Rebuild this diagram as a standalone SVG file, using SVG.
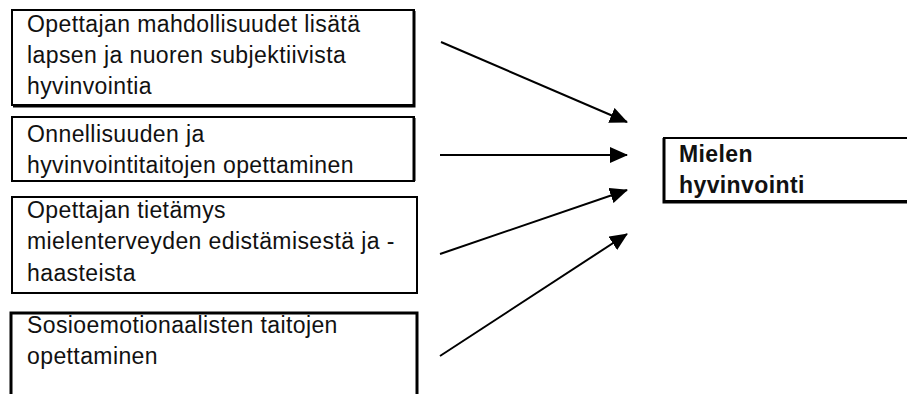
<svg xmlns="http://www.w3.org/2000/svg" width="907" height="394" viewBox="0 0 907 394">
<style>
.box{fill:#fff;stroke:#000;stroke-width:2}
.thick{stroke-width:3}
.t{font-family:"Liberation Sans",Arial,sans-serif;font-size:23px;letter-spacing:0.4px;fill:#111}
.b{font-weight:bold}
.c{stroke:#000;stroke-width:2;fill:none}
</style>
<defs>
<marker id="ah" markerWidth="9" markerHeight="8" refX="8.5" refY="4" orient="auto" markerUnits="strokeWidth">
<path d="M0,0 L9,4 L0,8 Z" fill="#000"/>
</marker>
</defs>
<g id="n1">
<rect class="box" x="12" y="10" width="402" height="95"/>
<path d="M414,11 V106 H13" class="c" style="stroke-width:3"/>
<text class="t"><tspan x="27" y="32">Opettajan mahdollisuudet lisätä</tspan><tspan x="27" y="63">lapsen ja nuoren subjektiivista</tspan><tspan x="27" y="94">hyvinvointia</tspan></text>
</g>
<g id="n2">
<rect class="box" x="12" y="117" width="402" height="64"/>
<path d="M414,118 V181" class="c" style="stroke-width:3"/>
<text class="t"><tspan x="27" y="142">Onnellisuuden ja</tspan><tspan x="27" y="173">hyvinvointitaitojen opettaminen</tspan></text>
</g>
<g id="n3">
<rect class="box" x="12" y="197" width="405" height="96"/>
<text class="t"><tspan x="27" y="218">Opettajan tietämys</tspan><tspan x="27" y="249">mielenterveyden edistämisestä ja -</tspan><tspan x="27" y="281">haasteista</tspan></text>
</g>
<g id="n4">
<rect class="box thick" x="11" y="313" width="406" height="100"/>
<text class="t"><tspan x="27" y="333">Sosioemotionaalisten taitojen</tspan><tspan x="27" y="364">opettaminen</tspan></text>
</g>
<g id="n5">
<rect class="box" x="664" y="138" width="260" height="63"/>
<path d="M664,138 V202 H910" class="c" style="stroke-width:3"/>
<text class="t b"><tspan x="679" y="162">Mielen</tspan><tspan x="679" y="193">hyvinvointi</tspan></text>
</g>
<g id="connectors">
<line class="c" x1="441" y1="42" x2="627" y2="122" marker-end="url(#ah)"/>
<line class="c" x1="440" y1="155" x2="627" y2="155" marker-end="url(#ah)"/>
<line class="c" x1="440" y1="254" x2="627" y2="190" marker-end="url(#ah)"/>
<line class="c" x1="440" y1="356" x2="627" y2="234" marker-end="url(#ah)"/>
</g>
</svg>
